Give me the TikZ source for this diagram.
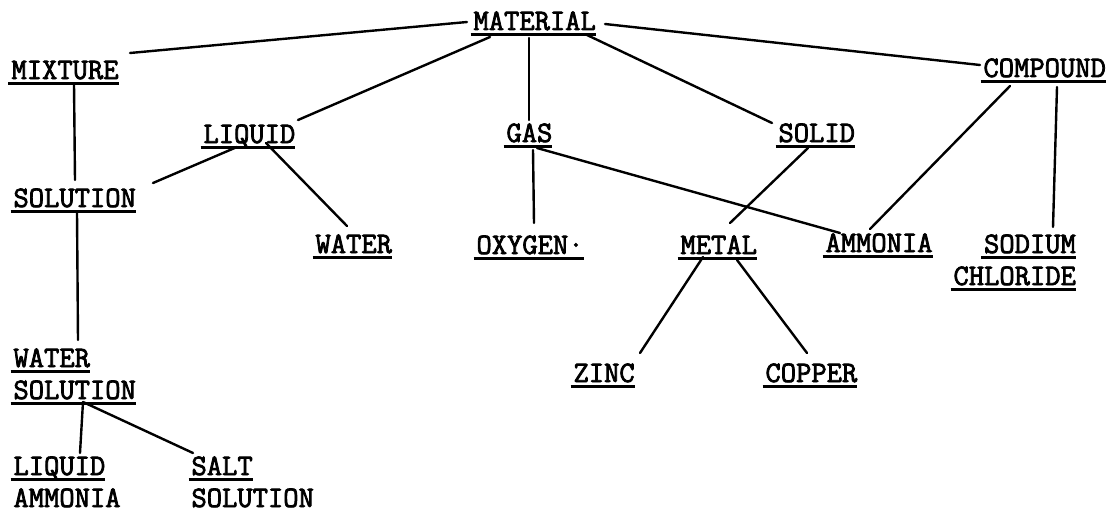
\documentclass[tikz,border=0pt]{standalone}
\usepackage{fontspec}
\newfontfamily\typewriter{Latin Modern Mono}[FakeBold=2.6]

% underlined word, typewriter style: rule slightly offset to the left
\newlength\ulwidth
\newcommand\ulword[1]{\settowidth\ulwidth{#1}\makebox[0pt][l]{\hspace*{-3pt}\rule[-5.8pt]{\dimexpr\ulwidth+3pt\relax}{2.4pt}}#1}
% two-line terms, left or right aligned
\newcommand\stackL[2]{\vtop{\baselineskip=32pt\halign{##\hfil\cr#1\cr#2\cr}}}
\newcommand\stackR[2]{\vtop{\baselineskip=32pt\halign{\hfil##\cr#1\cr#2\cr}}}

\begin{document}
\begin{tikzpicture}[x=1pt,y=-1pt,
  term/.style={anchor=base west,inner sep=0pt,outer sep=0pt,
    font=\typewriter\fontsize{29.7}{32}\selectfont},
  link/.style={line width=2.4pt,line cap=round}]
\useasboundingbox (0,0) rectangle (1113,511);

% terms (placed at their baseline start)
\node[term] (mat)    at (473.5,30)  {\ulword{MATERIAL}};
\node[term] (mix)    at (11.5,79)   {\ulword{MIXTURE}};
\node[term] (comp)   at (983.5,77)  {\ulword{COMPOUND}};
\node[term] (liq)    at (203.5,143) {\ulword{LIQUID}};
\node[term] (gas)    at (506.5,142) {\ulword{GAS}};
\node[term] (solid)  at (778.5,142) {\ulword{SOLID}};
\node[term] (sol)    at (13.5,207)  {\ulword{SOLUTION}};
\node[term] (water)  at (315.5,253) {\ulword{WATER}};
\node[term] (oxy)    at (476.5,254) {\ulword{OXYGEN·}};
\node[term] (metal)  at (680.5,254) {\ulword{METAL}};
\node[term] (amm)    at (825.5,252) {\ulword{AMMONIA}};
\node[term] (nacl)   at (953.5,253) {\stackR{\ulword{SODIUM}}{\ulword{CHLORIDE}}};
\node[term] (zinc)   at (573.5,382) {\ulword{ZINC}};
\node[term] (copper) at (765.5,382) {\ulword{COPPER}};
\node[term] (wsol)   at (13.5,367)  {\stackL{\ulword{WATER}}{\ulword{SOLUTION}}};
\node[term] (lamm)   at (13.5,475)  {\stackL{\ulword{LIQUID}}{AMMONIA}};
\node[term] (salt)   at (191.5,475) {\stackL{\ulword{SALT}}{SOLUTION}};

% connectors
\draw[link] ([shift={(-6.5,-8)}]mat.base west) -- ([shift={(118.5,-26)}]mix.base west);
\draw[link] ([shift={(16.5,7)}]mat.base west) -- ([shift={(94.5,-23)}]liq.base west);
\draw[link] ([shift={(55.5,8)}]mat.base west) -- ([shift={(22.5,-22)}]gas.base west);
\draw[link] ([shift={(113.5,5)}]mat.base west) -- ([shift={(-6.5,-19)}]solid.base west);
\draw[link] ([shift={(131.5,-6)}]mat.base west) -- ([shift={(-3.5,-12)}]comp.base west);
\draw[link] ([shift={(62.5,5)}]mix.base west) -- ([shift={(61.5,-27)}]sol.base west);
\draw[link] ([shift={(33.5,4)}]liq.base west) -- ([shift={(139.5,-24)}]sol.base west);
\draw[link] ([shift={(62.5,0)}]liq.base west) -- ([shift={(31.5,-27)}]water.base west);
\draw[link] ([shift={(26.5,8)}]gas.base west) -- ([shift={(57.5,-31)}]oxy.base west);
\draw[link] ([shift={(30.5,6)}]gas.base west) -- ([shift={(14.5,-19)}]amm.base west);
\draw[link] ([shift={(29.5,6)}]solid.base west) -- ([shift={(49.5,-31)}]metal.base west);
\draw[link] ([shift={(26.5,9)}]comp.base west) -- ([shift={(44.5,-23)}]amm.base west);
\draw[link] ([shift={(73.5,10)}]comp.base west) -- ([shift={(99.5,-26)}]nacl.base west);
\draw[link] ([shift={(63.5,5)}]sol.base west) -- ([shift={(64.5,-27)}]wsol.base west);
\draw[link] ([shift={(69.5,35)}]wsol.base west) -- ([shift={(66.5,-22)}]lamm.base west);
\draw[link] ([shift={(69.5,35)}]wsol.base west) -- ([shift={(1.5,-22)}]salt.base west);
\draw[link] ([shift={(22.5,3)}]metal.base west) -- ([shift={(66.5,-29)}]zinc.base west);
\draw[link] ([shift={(56.5,6)}]metal.base west) -- ([shift={(41.5,-29)}]copper.base west);
\end{tikzpicture}
\end{document}
